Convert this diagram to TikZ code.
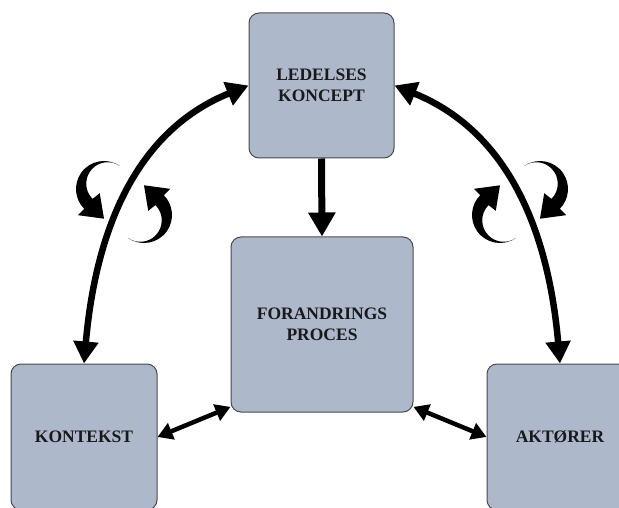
\documentclass[tikz,border=0pt]{standalone}
\usepackage{fontspec}
\setmainfont{Liberation Serif}
\usetikzlibrary{arrows.meta,calc}
\definecolor{boxfill}{HTML}{ADB8CA}
\definecolor{boxline}{HTML}{4A4A4A}
\tikzset{
  box/.style={draw=boxline, line width=1pt, fill=boxfill, rounded corners=10pt,
    align=center, inner sep=0pt, text=black!90,
    font=\fontsize{17.5}{21.5}\selectfont\bfseries},
  bigarc/.style={line width=6.5pt,
    {Triangle[length=22pt,width=24pt]}-{Triangle[length=22pt,width=24pt]}},
  downarr/.style={line width=7pt, -{Triangle[length=24pt,width=26pt]}},
  dblarr/.style={line width=4.5pt,
    {Triangle[length=15pt,width=17pt]}-{Triangle[length=15pt,width=17pt]}},
  curly/.pic={
    \fill (55:28) arc[start angle=55, end angle=225, radius=28]
      -- (225:37) -- ($(225:21)+(315:21)$) -- (225:6)
      -- ($(55:6.5)+(225:21.5)$) arc[start angle=225, end angle=55, radius=21.5]
      -- cycle;
  }
}
\begin{document}
\begin{tikzpicture}[x=1pt,y=1pt]
\useasboundingbox (0,0) rectangle (619,507);
\clip (0,0) rectangle (619,507);
\node[box, minimum width=145pt, minimum height=145pt] (led) at (321.5,421.5) {LEDELSES\\KONCEPT};
\node[box, minimum width=182pt, minimum height=175pt] (ctr) at (322,182.5) {FORANDRINGS\\PROCES};
\node[box, minimum width=146pt, minimum height=146pt] (kon) at (84,70) {KONTEKST};
\node[box, minimum width=146pt, minimum height=146pt] (akt) at (560,70) {AKTØRER};

\draw[bigarc] (led.west) to[out=202,in=85] (kon.north);
\draw[bigarc] (led.east) to[out=-22,in=95] (akt.north);
\draw[downarr] (led.south) -- (ctr.north);
\draw[dblarr] (kon.east) -- (ctr.222);
\draw[dblarr] (ctr.-42) -- (akt.west);

\pic at (104,318) {curly};
\pic[rotate=180] at (144,292) {curly};
\pic[xscale=-1] at (540,318) {curly};
\pic[yscale=-1] at (500,292) {curly};
\end{tikzpicture}
\end{document}
